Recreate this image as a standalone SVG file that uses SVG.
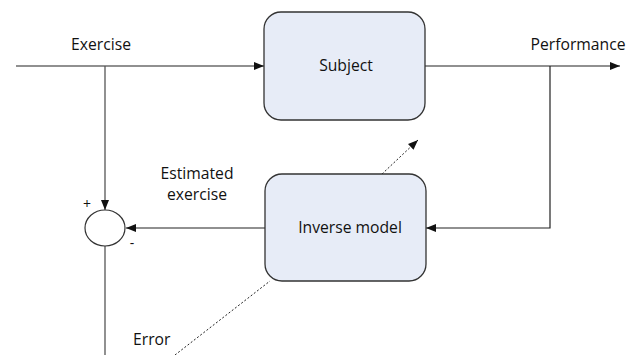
<svg xmlns="http://www.w3.org/2000/svg" width="640" height="355" viewBox="0 0 640 355">
<style>
.box{fill:#e7ecf7;stroke:#333;stroke-width:1.3}
.ln{fill:none;stroke:#222;stroke-width:1.2}
.gl{fill:none;stroke:#555;stroke-width:1.3}
.dot{fill:none;stroke:#222;stroke-width:1;stroke-dasharray:2,2}
text{font-family:"Open Sans","Liberation Sans",sans-serif;font-size:15.7px;fill:#111}
.c{text-anchor:middle}
</style>
<defs>
<marker id="ah" markerWidth="10" markerHeight="8" refX="10" refY="4" orient="auto" markerUnits="userSpaceOnUse">
<path d="M0,0 L10,4 L0,8 Z" fill="#111"/>
</marker>
</defs>
<g id="connectors">
<path class="ln" d="M16,66 H264" marker-end="url(#ah)"/>
<path class="ln" d="M425,66 H620" marker-end="url(#ah)"/>
<path class="gl" d="M105,66 V210" marker-end="url(#ah)"/>
<path class="ln" d="M550,66 V228 H426" marker-end="url(#ah)"/>
<path class="ln" d="M265,228 H126" marker-end="url(#ah)"/>
<path class="gl" d="M105,246 V355"/>
<path class="dot" d="M175,355 L270,281"/>
<path class="dot" d="M382,174 L418,140" marker-end="url(#ah)"/>
</g>
<g id="subject">
<rect class="box" x="264" y="12" width="161" height="108" rx="17"/>
<text class="c" x="346" y="71">Subject</text>
</g>
<g id="inverse-model">
<rect class="box" x="265" y="174" width="161" height="107" rx="17"/>
<text class="c" x="350" y="233">Inverse model</text>
</g>
<g id="sum">
<ellipse cx="105" cy="228" rx="20" ry="18" fill="#fff" stroke="#333" stroke-width="1.2"/>
<text class="c" x="87" y="209" style="font-size:14px">+</text>
<text class="c" x="132" y="248" style="font-size:14px">-</text>
</g>
<g id="labels">
<text class="c" x="197" y="179">Estimated</text>
<text class="c" x="197" y="200">exercise</text>
<text class="c" x="101" y="50">Exercise</text>
<text class="c" x="578" y="50">Performance</text>
<text x="133" y="345">Error</text>
</g>
</svg>
